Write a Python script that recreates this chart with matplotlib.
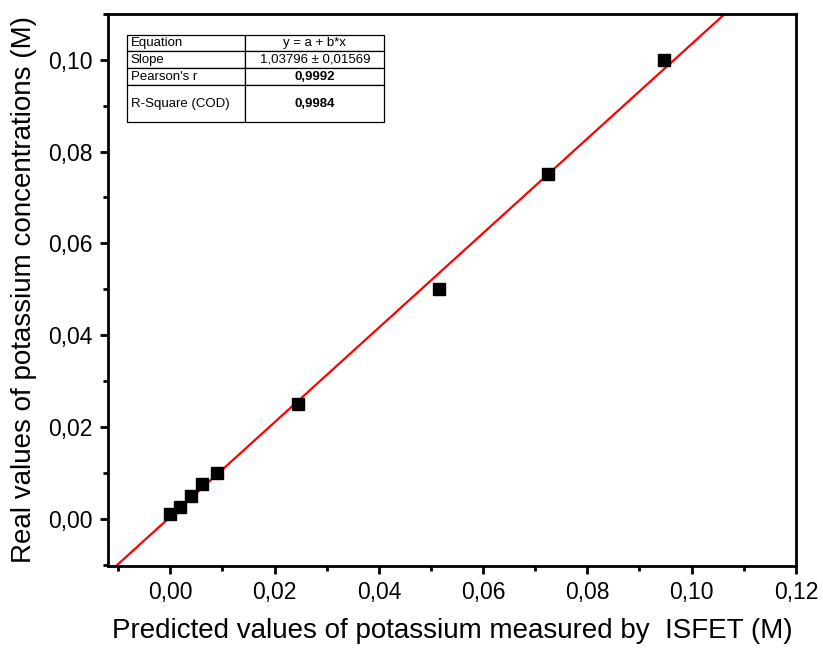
import numpy as np
import matplotlib
matplotlib.use("Agg")
from matplotlib import pyplot as plt
from matplotlib.ticker import MultipleLocator, FuncFormatter

# data
predicted = [0.0, 0.0019, 0.004, 0.006, 0.009, 0.0245, 0.0515, 0.0725, 0.0947]
real = [0.001, 0.0025, 0.005, 0.0075, 0.010, 0.025, 0.050, 0.075, 0.100]

table_rows = ["Equation", "Slope", "Pearson's r", "R-Square (COD)"]
table_vals = ["y = a + b*x", "1,03796 \u00b1 0,01569", "0,9992", "0,9984"]

plt.rcParams['font.family'] = ['Liberation Sans', 'DejaVu Sans']

fig = plt.figure(figsize=(8.23, 6.57), dpi=100)
ax = fig.add_axes([0.131, 0.139, 0.836, 0.840])

# linear fit
b, a = np.polyfit(predicted, real, 1)
xs = np.array([-0.02, 0.13])
ax.plot(xs, a + b * xs, color="#ff0000", lw=1.6, zorder=2)
ax.plot(predicted, real, ls="none", marker="s", ms=8.5, color="black", zorder=3)

ax.set_xlim(-0.012, 0.12)
ax.set_ylim(-0.0102, 0.110)

fmt = FuncFormatter(lambda v, p: ("%.2f" % v).replace(".", ","))
ax.xaxis.set_major_locator(MultipleLocator(0.02))
ax.xaxis.set_minor_locator(MultipleLocator(0.01))
ax.yaxis.set_major_locator(MultipleLocator(0.02))
ax.yaxis.set_minor_locator(MultipleLocator(0.01))
ax.xaxis.set_major_formatter(fmt)
ax.yaxis.set_major_formatter(fmt)
ax.tick_params(which="major", direction="out", length=6, width=2, labelsize=16.5, pad=5)
ax.tick_params(which="minor", direction="out", length=3.5, width=2)
for s in ax.spines.values():
    s.set_linewidth(2)

ax.set_xlabel("Predicted values of potassium measured by  ISFET (M)", fontsize=20, labelpad=10)
ax.set_ylabel("Real values of potassium concentrations (M)", fontsize=20, labelpad=8)

# fit results table
tab = ax.table(cellText=[[r, v] for r, v in zip(table_rows, table_vals)],
               colWidths=[0.46, 0.54], cellLoc="center",
               bbox=[0.028, 0.804, 0.374, 0.158])
tab.auto_set_font_size(False)
tab.set_fontsize(9.5)
heights = [0.19, 0.19, 0.20, 0.42]
for (r, c), cell in tab.get_celld().items():
    cell.set_linewidth(0.9)
    cell.set_height(heights[r] * 0.158)
    if c == 0:
        cell.set_text_props(ha="left")
        cell._loc = "left"
        cell.PAD = 0.03
    if c == 1 and r >= 2:
        cell.set_text_props(fontweight="bold")

plt.savefig("out.png", dpi=100)
plt.close()
